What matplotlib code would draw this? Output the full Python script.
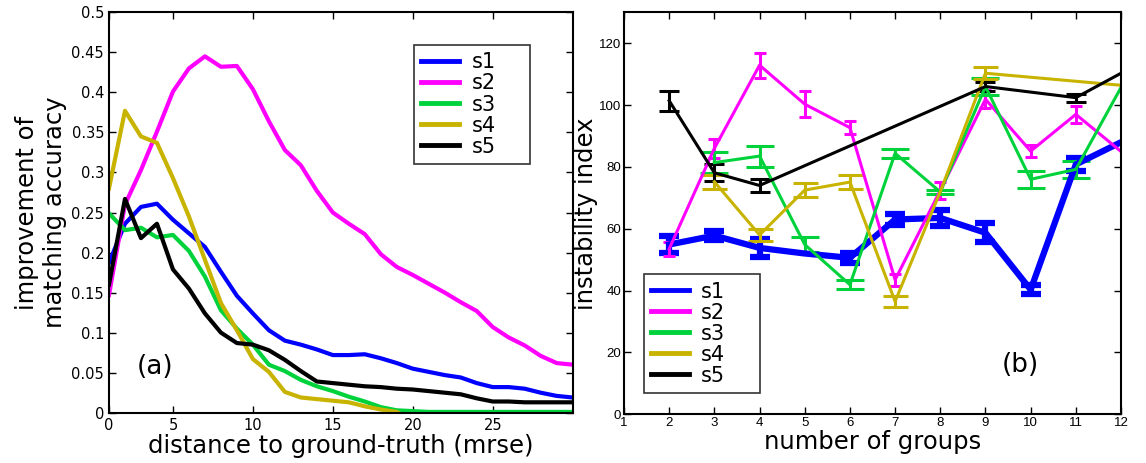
import numpy as np
import matplotlib
matplotlib.use("Agg")
import matplotlib.pyplot as plt

# ---- panel (a) data ----
dist = np.arange(1, 31)
a_s1 = [0.187, 0.236, 0.257, 0.261, 0.241, 0.224, 0.207, 0.176, 0.146, 0.124,
        0.103, 0.090, 0.085, 0.079, 0.072, 0.072, 0.073, 0.068, 0.062, 0.055,
        0.051, 0.047, 0.044, 0.037, 0.032, 0.032, 0.030, 0.025, 0.021, 0.019]
a_s2 = [0.147, 0.260, 0.303, 0.351, 0.401, 0.430, 0.445, 0.432, 0.433, 0.404,
        0.364, 0.328, 0.309, 0.277, 0.250, 0.236, 0.223, 0.198, 0.182, 0.172,
        0.161, 0.150, 0.138, 0.127, 0.107, 0.094, 0.084, 0.071, 0.062, 0.060]
a_s3 = [0.249, 0.228, 0.231, 0.219, 0.222, 0.202, 0.170, 0.128, 0.105, 0.085,
        0.060, 0.052, 0.041, 0.033, 0.027, 0.020, 0.014, 0.007, 0.003, 0.002,
        0.001, 0.001, 0.001, 0.001, 0.001, 0.001, 0.001, 0.001, 0.001, 0.001]
a_s4 = [0.280, 0.377, 0.345, 0.337, 0.293, 0.245, 0.191, 0.137, 0.103, 0.067,
        0.051, 0.026, 0.019, 0.017, 0.015, 0.013, 0.008, 0.004, 0.001, -0.01,
        -0.01, -0.01, -0.01, -0.01, -0.01, -0.01, -0.01, -0.01, -0.01, -0.01]
a_s5 = [0.160, 0.267, 0.218, 0.236, 0.179, 0.155, 0.124, 0.100, 0.087, 0.085,
        0.078, 0.066, 0.052, 0.039, 0.037, 0.035, 0.033, 0.032, 0.030, 0.029,
        0.027, 0.025, 0.023, 0.018, 0.014, 0.014, 0.013, 0.013, 0.013, 0.013]

# ---- panel (b) data (nan = no error bar drawn) ----
nan = np.nan
b1_x = [2, 3, 4, 5, 6, 7, 8, 9, 10, 11, 12]
b1_y = [54.9, 57.8, 53.8, 52.0, 50.6, 63.0, 63.5, 58.7, 40.3, 80.8, 88.0]
b1_e = [2.8, 1.4, 2.8, nan, 1.6, 1.7, 2.5, 3.1, 1.4, 2.2, nan]
b2_x = [2, 3, 4, 5, 6, 7, 8, 9, 10, 11, 12]
b2_y = [53.5, 86.0, 112.9, 100.3, 92.7, 43.5, 72.4, 101.9, 85.1, 97.0, 85.0]
b2_e = [2.3, 3.0, 4.0, 4.3, 2.0, 2.0, 2.7, 3.0, 2.0, 2.7, nan]
b3_x = [3, 4, 5, 6, 7, 8, 9, 10, 11, 12]
b3_y = [81.4, 83.5, 54.9, 41.9, 84.4, 71.9, 106.0, 76.0, 79.2, 105.7]
b3_e = [3.4, 3.4, 2.4, 1.5, 1.5, 0.7, 2.6, 2.7, 2.7, nan]
b4_x = [3, 4, 5, 6, 7, 8, 9, 12]
b4_y = [75.2, 58.0, 72.5, 75.1, 36.5, 72.0, 110.3, 106.4]
b4_e = [2.3, 2.0, 2.3, 2.3, 1.7, nan, 2.0, nan]
b5_x = [2, 3, 4, 9, 11, 12]
b5_y = [101.4, 78.1, 74.0, 106.0, 102.4, 110.3]
b5_e = [3.2, 2.7, 2.0, 1.4, 1.3, nan]

names = ['s1', 's2', 's3', 's4', 's5']
colors = ['#0000ff', '#ff00ff', '#00d23c', '#c8b400', '#000000']

fig = plt.figure(figsize=(11.46, 4.63), dpi=100)
ax1 = fig.add_axes([0.0951, 0.1086, 0.4046, 0.8648])
ax2 = fig.add_axes([0.5445, 0.1052, 0.4337, 0.8682])

for ys, c, n in zip([a_s1, a_s2, a_s3, a_s4, a_s5], colors, names):
    ax1.plot(dist, ys, color=c, lw=3, label=n)
ax1.set_xlim(1, 30)
ax1.set_ylim(0, 0.5)
ax1.set_xticks([1, 5, 10, 15, 20, 25])
ax1.set_xticklabels(['0', '5', '10', '15', '20', '25'])
ax1.set_yticks(np.arange(0, 0.51, 0.05))
ax1.set_yticklabels(['0', '0.05', '0.1', '0.15', '0.2', '0.25', '0.3',
                     '0.35', '0.4', '0.45', '0.5'])
ax1.set_xlabel('distance to ground-truth (mrse)', fontsize=17.5, labelpad=1)
ax1.set_ylabel('improvement of\nmatching accuracy', fontsize=17.5, labelpad=3)
ax1.tick_params(direction='in', top=True, right=True, labelsize=10.5, length=5, width=1)
ax1.text(3.9, 0.057, '(a)', fontsize=19, ha='center', va='center')
leg1 = ax1.legend(loc='upper left', bbox_to_anchor=(0.658, 0.631, 0.25, 0.287),
                  mode='expand', borderaxespad=0, fontsize=15,
                  fancybox=False, edgecolor='black', handlelength=1.8,
                  labelspacing=0.05, borderpad=0.35, handletextpad=0.6)
leg1.get_frame().set_linewidth(1.2)
for h in leg1.legend_handles:
    h.set_linewidth(3.5)

sets = [(b1_x, b1_y, b1_e, 4.5, 7), (b2_x, b2_y, b2_e, 2.2, 4),
        (b3_x, b3_y, b3_e, 2.2, 10), (b4_x, b4_y, b4_e, 2.2, 9),
        (b5_x, b5_y, b5_e, 2.2, 7)]
lines = []
for (xs, ys, es, lw, cs), c, n in zip(sets, colors, names):
    eb = ax2.errorbar(xs, ys, yerr=es, color=c, lw=lw, elinewidth=lw, capsize=cs,
                      capthick=lw, label=n)
    lines.append(eb[0])
ax2.set_xlim(1, 12)
ax2.set_ylim(0, 130)
ax2.set_xticks(range(1, 13))
ax2.set_yticks(range(0, 121, 20))
for lab in ax2.get_xticklabels() + ax2.get_yticklabels():
    lab.set_family('Liberation Sans')
ax2.tick_params(direction='in', top=True, right=True, labelsize=9.5, length=5,
                width=1, pad=2)
ax2.set_xlabel('number of groups', fontsize=17.5, labelpad=1)
ax2.set_ylabel('instability index', fontsize=17.5, labelpad=1)
ax2.text(9.77, 16, '(b)', fontsize=19, ha='center', va='center')
leg2 = ax2.legend(lines, names, loc='lower left',
                  bbox_to_anchor=(0.040, 0.053, 0.234, 0.27),
                  mode='expand', borderaxespad=0, fontsize=15,
                  fancybox=False, edgecolor='black', handlelength=1.8,
                  labelspacing=0.05, borderpad=0.35, handletextpad=0.6)
leg2.get_frame().set_linewidth(1.2)
for h in leg2.legend_handles:
    h.set_linewidth(3.5)

for ax in (ax1, ax2):
    for sp in ax.spines.values():
        sp.set_linewidth(1.5)

fig.savefig('out.png', dpi=100)
